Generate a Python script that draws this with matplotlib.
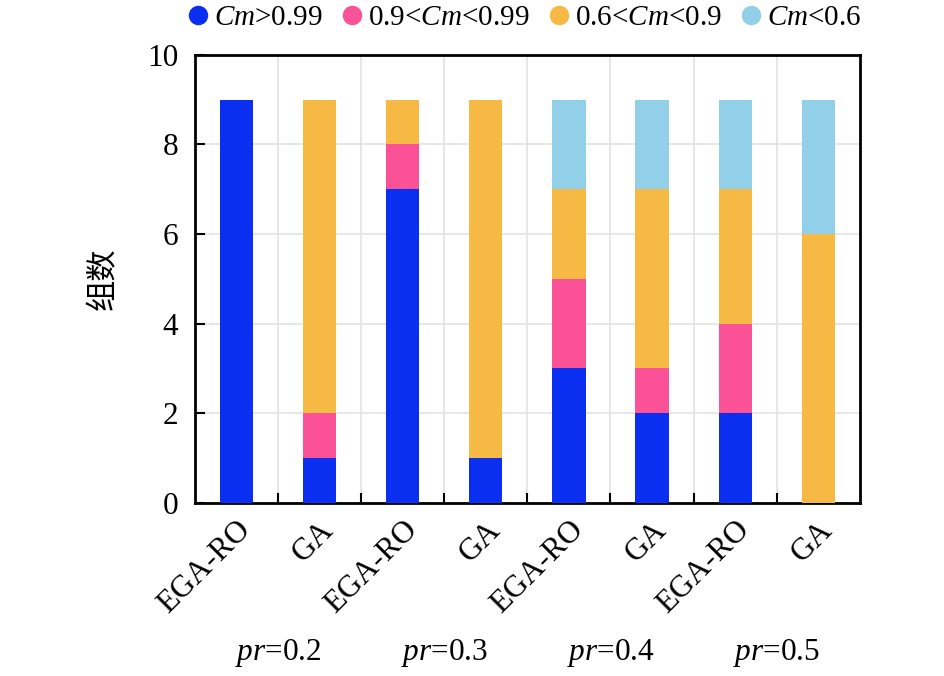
import numpy as np
import matplotlib
matplotlib.use("Agg")
import matplotlib.pyplot as plt
from matplotlib.lines import Line2D

plt.rcParams['font.family'] = ['Liberation Serif', 'Noto Sans CJK SC', 'DejaVu Sans']
plt.rcParams['mathtext.fontset'] = 'custom'
plt.rcParams['mathtext.rm'] = 'Liberation Serif'
plt.rcParams['mathtext.it'] = 'Liberation Serif:italic'

# data
methods = ['EGA-RO', 'GA', 'EGA-RO', 'GA', 'EGA-RO', 'GA', 'EGA-RO', 'GA']
pr_labels = ['$pr$=0.2', '$pr$=0.3', '$pr$=0.4', '$pr$=0.5']
cm_high = [9, 1, 7, 1, 3, 2, 2, 0]     # Cm>0.99
cm_mid = [0, 1, 1, 0, 2, 1, 2, 0]      # 0.9<Cm<0.99
cm_low = [0, 7, 1, 8, 2, 4, 3, 6]      # 0.6<Cm<0.9
cm_bad = [0, 0, 0, 0, 2, 2, 2, 3]      # Cm<0.6
series_names = ['$Cm$>0.99', '0.9<$Cm$<0.99', '0.6<$Cm$<0.9', '$Cm$<0.6']
colors = ['#0a2ff0', '#fb5196', '#f6b943', '#92d0ea']

fs = 22.5

fig = plt.figure(figsize=(9.45, 6.76), dpi=100)
ax = fig.add_axes([0.206, 0.256, 0.704, 0.663])

x = np.arange(len(methods))
bottom = np.zeros(len(methods))
for vals, c in zip([cm_high, cm_mid, cm_low, cm_bad], colors):
    ax.bar(x, vals, width=0.4, bottom=bottom, color=c, zorder=3)
    bottom += np.array(vals)

ax.set_xlim(-0.5, len(methods) - 0.5)
ax.set_ylim(0, 10)
ax.set_yticks(np.arange(0, 11, 2))
ax.set_xticks(x)
ax.set_xticklabels(methods, rotation=45, ha='right', va='top',
                   rotation_mode='anchor', fontsize=fs)
ax.set_xticks(np.arange(0.5, len(methods) - 0.5, 1), minor=True)
ax.tick_params(axis='x', which='major', length=0, pad=9)
ax.tick_params(axis='x', which='minor', direction='in', length=7, width=1.5)
ax.tick_params(axis='y', direction='in', length=7, width=1.5, labelsize=fs, pad=12)
ax.grid(True, axis='y', color='#e3e3e3', linewidth=1.2, zorder=0)
ax.grid(True, axis='x', which='minor', color='#e3e3e3', linewidth=1.2, zorder=0)
for s in ax.spines.values():
    s.set_linewidth(2)

ax.set_ylabel('组数', fontsize=fs, family=['Noto Sans CJK SC'], labelpad=20)

for i, lab in enumerate(pr_labels):
    ax.text(2 * i + 0.5, -0.335, lab, transform=ax.get_xaxis_transform(),
            ha='center', va='center', fontsize=fs)

handles = [Line2D([], [], marker='o', linestyle='', color=c, markersize=13)
           for c in colors]
fig.legend(handles, series_names, loc='upper center', ncol=4, frameon=False,
           bbox_to_anchor=(0.553, 1.032), fontsize=21, handletextpad=0.05,
           columnspacing=0.5, handlelength=1.0)

fig.savefig('out.png', dpi=100)
